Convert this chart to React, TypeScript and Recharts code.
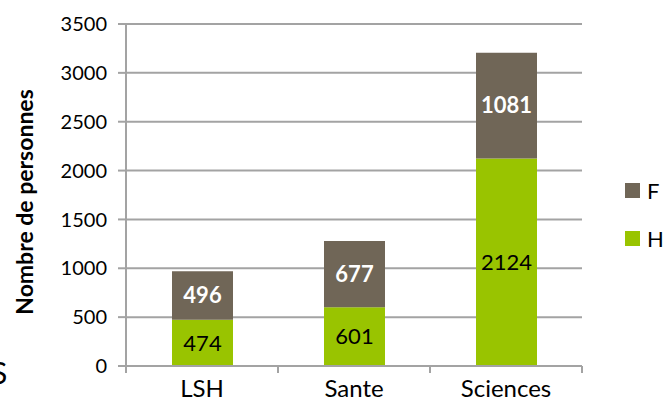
import * as React from "react";
import { BarChart, Bar, XAxis, YAxis, CartesianGrid, LabelList } from "recharts";

const categories = ["LSH", "Sante", "Sciences"];
const hommes = [474, 601, 2124];
const femmes = [496, 677, 1081];
const yTicks = [0, 500, 1000, 1500, 2000, 2500, 3000, 3500];

const series = [
  { key: "H", name: "H", color: "#99c400", labelColor: "#000000", bold: false },
  { key: "F", name: "F", color: "#706657", labelColor: "#ffffff", bold: true },
];

const data = categories.map((cat, i) => ({ cat, H: hommes[i], F: femmes[i] }));

const W = 664;
const H = 412;
const margin = { top: 24, right: 82, bottom: 0, left: 0 };
const Y_AXIS_W = 126;
const BAND = (W - margin.right - Y_AXIS_W) / categories.length;
const FONT = "Lato, 'Open Sans', sans-serif";
const GRID = "#a3a3a3";

const CatTick = (props: any) => {
  const { x, y, payload, index } = props;
  const last = index === categories.length - 1;
  return (
    <g>
      <line x1={x - BAND / 2} x2={x - BAND / 2} y1={y} y2={y + 7} stroke={GRID} strokeWidth={2} />
      {last && <line x1={x + BAND / 2} x2={x + BAND / 2} y1={y} y2={y + 7} stroke={GRID} strokeWidth={2} />}
      <text x={x} y={y + 31} textAnchor="middle" fontSize={24} fontFamily={FONT} fill="#000">
        {payload.value}
      </text>
    </g>
  );
};

export default function App() {
  return (
    <div style={{ position: "absolute", left: 0, top: 0, width: W, height: H, background: "#fff", fontFamily: FONT }}>
      <BarChart width={W} height={H} data={data} margin={margin} barSize={61}>
        <CartesianGrid vertical={false} stroke={GRID} strokeWidth={2} />
        <XAxis
          dataKey="cat"
          height={46}
          tickLine={false}
          tickSize={0}
          tickMargin={0}
          axisLine={{ stroke: GRID, strokeWidth: 2 }}
          tick={<CatTick />}
          interval={0}
        />
        <YAxis
          width={Y_AXIS_W}
          domain={[0, 3500]}
          ticks={yTicks}
          tickSize={8}
          tickMargin={11}
          tickLine={{ stroke: GRID, strokeWidth: 2 }}
          axisLine={{ stroke: GRID, strokeWidth: 2 }}
          tick={{ fontSize: 20, fontFamily: FONT, fill: "#000" }}
        />
        {series.map((s) => (
          <Bar key={s.key} dataKey={s.key} name={s.name} stackId="a" fill={s.color} isAnimationActive={false}>
            <LabelList
              dataKey={s.key}
              position="center"
              fill={s.labelColor}
              fontSize={22}
              fontWeight={s.bold ? 700 : 400}
              fontFamily={FONT}
            />
          </Bar>
        ))}
        <text
          x={24}
          y={202}
          transform="rotate(-90 24 202)"
          textAnchor="middle"
          dominantBaseline="central"
          fontSize={23}
          fontWeight={700}
          fontFamily={FONT}
          fill="#000"
        >
          Nombre de personnes
        </text>
        <text x={-9} y={384} fontSize={30} fontFamily={FONT} fill="#000">
          S
        </text>
      </BarChart>
      <div style={{ position: "absolute", left: 625, top: 166 }}>
        {[...series].reverse().map((s) => (
          <div key={s.key} style={{ display: "flex", alignItems: "center", height: 48 }}>
            <span style={{ width: 15, height: 15, background: s.color, display: "inline-block" }} />
            <span style={{ marginLeft: 7, fontSize: 22, color: "#000" }}>{s.name}</span>
          </div>
        ))}
      </div>
    </div>
  );
}
